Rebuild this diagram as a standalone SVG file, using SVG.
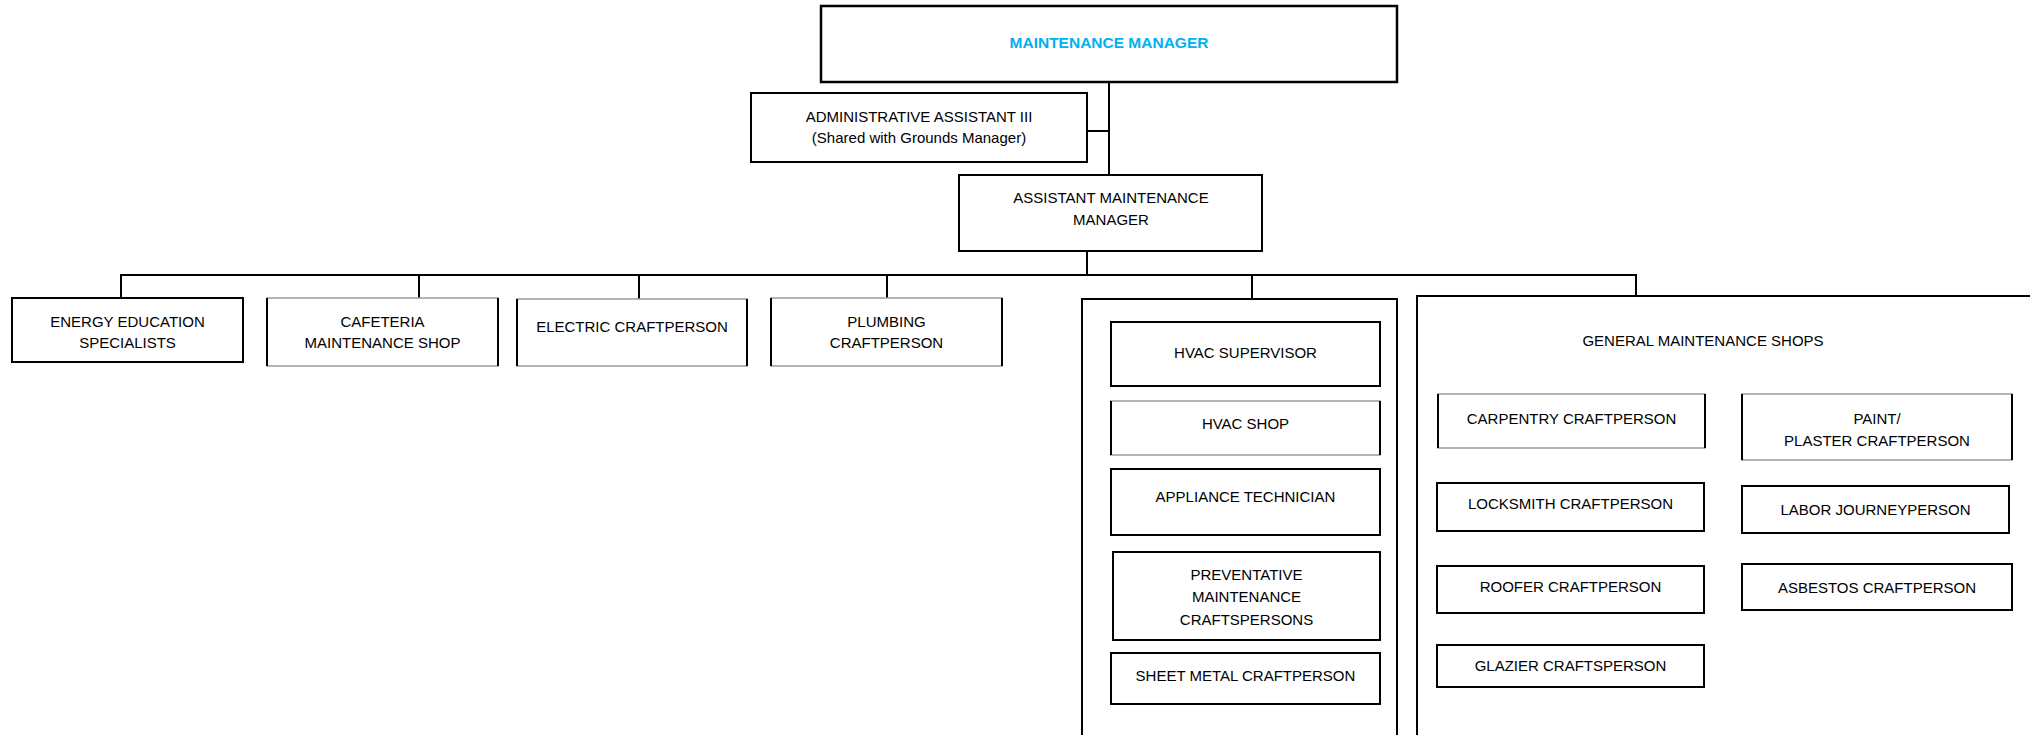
<svg xmlns="http://www.w3.org/2000/svg" width="2030" height="735" viewBox="0 0 2030 735">
<style>
rect{fill:#fff;stroke:#000;stroke-width:2}
.soft{stroke:#9a9a9a;stroke-width:1.5}
.side{stroke:#000;stroke-width:2;fill:none}
.frame{fill:none;stroke:#000;stroke-width:2}
.conn line{stroke:#000;stroke-width:2}
text{font-family:"Liberation Sans",Arial,sans-serif;font-size:15px;fill:#000;text-anchor:middle}
.title{font-weight:bold;fill:#00B0F0;font-size:15.5px}
</style>
<rect x="0" y="0" width="2030" height="735" style="fill:#fff;stroke:none"/>
<g id="connectors" class="conn">
<line x1="1109" y1="82" x2="1109" y2="175"/>
<line x1="1087" y1="131" x2="1109" y2="131"/>
<line x1="1087" y1="251" x2="1087" y2="275"/>
<line x1="120" y1="275" x2="1637" y2="275"/>
<line x1="121" y1="275" x2="121" y2="298"/>
<line x1="419" y1="275" x2="419" y2="298"/>
<line x1="639" y1="275" x2="639" y2="299"/>
<line x1="887" y1="275" x2="887" y2="298"/>
<line x1="1252" y1="275" x2="1252" y2="299"/>
<line x1="1636" y1="275" x2="1636" y2="296"/>
</g>
<g id="maintenance-manager">
<rect x="821" y="6" width="576" height="76" style="stroke-width:2.5"/>
<text class="title" x="1109" y="47.5">MAINTENANCE MANAGER</text>
</g>
<g id="admin-assistant">
<rect x="751" y="93" width="336" height="69"/>
<text x="919" y="121.5">ADMINISTRATIVE ASSISTANT III</text>
<text x="919" y="142.5">(Shared with Grounds Manager)</text>
</g>
<g id="assistant-manager">
<rect x="959" y="175" width="303" height="76"/>
<text x="1111" y="202.5">ASSISTANT MAINTENANCE</text>
<text x="1111" y="224.5">MANAGER</text>
</g>
<g id="energy-education">
<rect x="12" y="298" width="231" height="64"/>
<text x="127.5" y="327">ENERGY EDUCATION</text>
<text x="127.5" y="348">SPECIALISTS</text>
</g>
<g id="cafeteria">
<rect class="soft" x="267" y="298" width="231" height="68"/>
<path class="side" d="M267,298V366M498,298V366"/>
<text x="382.5" y="327">CAFETERIA</text>
<text x="382.5" y="348">MAINTENANCE SHOP</text>
</g>
<g id="electric">
<rect class="soft" x="517" y="299" width="230" height="67"/>
<path class="side" d="M517,299V366M747,299V366"/>
<text x="632" y="332">ELECTRIC CRAFTPERSON</text>
</g>
<g id="plumbing">
<rect class="soft" x="771" y="298" width="231" height="68"/>
<path class="side" d="M771,298V366M1002,298V366"/>
<text x="886.5" y="327">PLUMBING</text>
<text x="886.5" y="348">CRAFTPERSON</text>
</g>
<g id="hvac-group">
<path class="frame" d="M1082,736V299H1397V736"/>
</g>
<g id="hvac-supervisor">
<rect x="1111" y="322" width="269" height="64"/>
<text x="1245.5" y="357.5">HVAC SUPERVISOR</text>
</g>
<g id="hvac-shop">
<rect class="soft" x="1111" y="401" width="269" height="54"/>
<path class="side" d="M1111,401V455M1380,401V455"/>
<text x="1245.5" y="428.5">HVAC SHOP</text>
</g>
<g id="appliance-technician">
<rect x="1111" y="469" width="269" height="66"/>
<text x="1245.5" y="501.5">APPLIANCE TECHNICIAN</text>
</g>
<g id="preventative-maintenance">
<rect x="1113" y="552" width="267" height="88"/>
<text x="1246.5" y="579.5">PREVENTATIVE</text>
<text x="1246.5" y="601.5">MAINTENANCE</text>
<text x="1246.5" y="624.5">CRAFTSPERSONS</text>
</g>
<g id="sheet-metal">
<rect x="1111" y="653" width="269" height="51"/>
<text x="1245.5" y="680.5">SHEET METAL CRAFTPERSON</text>
</g>
<g id="general-maintenance-shops">
<path class="frame" d="M1417,736V296H2031"/>
<text x="1703" y="345.5">GENERAL MAINTENANCE SHOPS</text>
</g>
<g id="carpentry">
<rect class="soft" x="1438" y="394" width="267" height="54"/>
<path class="side" d="M1438,394V448M1705,394V448"/>
<text x="1571.5" y="423.5">CARPENTRY CRAFTPERSON</text>
</g>
<g id="paint-plaster">
<rect class="soft" x="1742" y="394" width="270" height="66"/>
<path class="side" d="M1742,394V460M2012,394V460"/>
<text x="1877" y="423.5">PAINT/</text>
<text x="1877" y="445.5">PLASTER CRAFTPERSON</text>
</g>
<g id="locksmith">
<rect x="1437" y="483" width="267" height="48"/>
<text x="1570.5" y="508.5">LOCKSMITH CRAFTPERSON</text>
</g>
<g id="labor-journeyperson">
<rect x="1742" y="486" width="267" height="47"/>
<text x="1875.5" y="514.5">LABOR JOURNEYPERSON</text>
</g>
<g id="roofer">
<rect x="1437" y="566" width="267" height="47"/>
<text x="1570.5" y="591.5">ROOFER CRAFTPERSON</text>
</g>
<g id="asbestos">
<rect x="1742" y="564" width="270" height="46"/>
<text x="1877" y="592.5">ASBESTOS CRAFTPERSON</text>
</g>
<g id="glazier">
<rect x="1437" y="645" width="267" height="42"/>
<text x="1570.5" y="670.5">GLAZIER CRAFTSPERSON</text>
</g>
</svg>
